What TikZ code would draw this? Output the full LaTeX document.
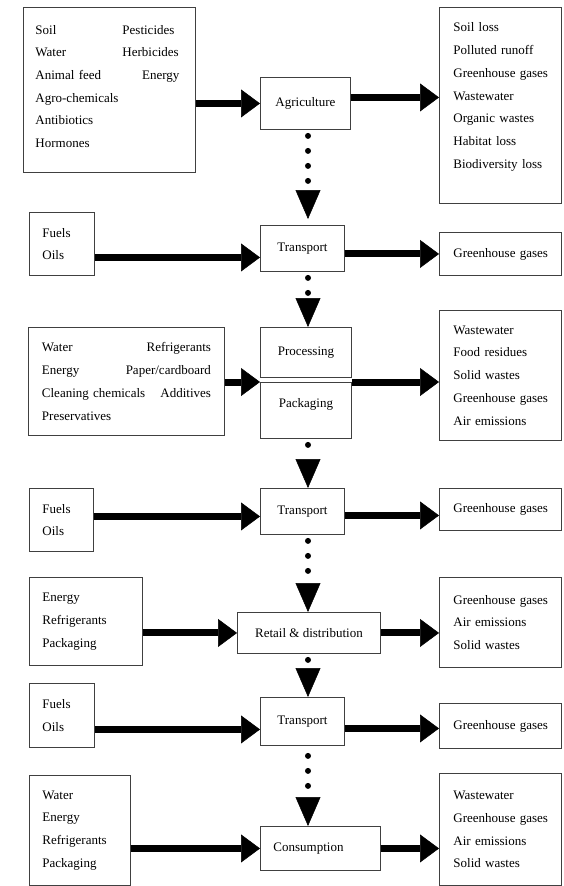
\documentclass[tikz,border=0pt]{standalone}
\usepackage{fontspec}
\setmainfont{Liberation Serif}
\usetikzlibrary{arrows.meta}
\newcommand\ghgtext{\mbox{Greenhouse gases}}
\begin{document}
\begin{tikzpicture}[x=1pt,y=-1pt,
  box/.style={draw=black!75, line width=0.9pt, anchor=north west, font=\fontsize{13pt}{22.7pt}\selectfont, text=black, align=left, inner ysep=0pt},
  pbox/.style={draw=black!75, line width=0.9pt, anchor=north west, font=\fontsize{13pt}{22.7pt}\selectfont, text=black, inner sep=0pt},
  flow/.style={line width=7pt, black, -{Triangle[length=19pt,width=28pt,line width=0.5pt]}},
  dotflow/.style={line width=6pt, black, line cap=round, dash pattern=on 0pt off 15pt, dash phase=9pt, -{Triangle[length=29pt,width=25pt,line width=0.5pt]}}
]
\fill[white] (0,0) rectangle (563,886);
\useasboundingbox (0,0) rectangle (563,886);
\coordinate (axis) at (308,0);

% row 1
\node[box, text width=148pt, inner xsep=12pt, minimum height=165pt] (in1) at (23,7)
 {\makebox[87pt][l]{Soil}Pesticides\\ \makebox[87pt][l]{Water}Herbicides\\ \makebox[144pt][l]{Animal feed\hfill Energy}\\ Agro-chemicals\\ Antibiotics\\ Hormones\par\vspace*{7pt}};
\node[pbox, minimum width=90pt, minimum height=52pt] (agri) at (260,77) {Agriculture};
\node[box, text width=94pt, inner xsep=14pt, minimum height=196pt] (out1) at (439,7)
 {Soil loss\\ Polluted runoff\\ \ghgtext\\ Wastewater\\ Organic wastes\\ Habitat loss\\ Biodiversity loss\par\vspace*{17pt}};

% row 2
\node[box, text width=39pt, inner xsep=13pt, minimum height=63pt] (fuel1) at (29,212) {Fuels\\ Oils};
\node[pbox, minimum width=84pt, minimum height=46pt] (tr1) at (260,225) {Transport};
\node[box, text width=94pt, inner xsep=14pt, minimum height=43pt] (ghg1) at (439,232) {\ghgtext};

% row 3
\node[box, text width=169pt, inner xsep=13.5pt, minimum height=108pt] (in3) at (28,327)
 {\makebox[169pt][l]{Water\hfill Refrigerants}\\ \makebox[169pt][l]{Energy\hfill Paper/cardboard}\\ \makebox[169pt][l]{Cleaning chemicals\hfill Additives}\\ Preservatives};
\node[pbox, minimum width=91pt, minimum height=50pt] (proc) at (260,327) {Processing};
\node[pbox, minimum width=91pt, minimum height=56pt, text depth=15pt] (pack) at (260,382) {Packaging};
\node[box, text width=94pt, inner xsep=14pt, minimum height=130pt] (out3) at (439,310)
 {Wastewater\\ Food residues\\ Solid wastes\\ \ghgtext\\ Air emissions};

% row 4
\node[box, text width=38pt, inner xsep=13pt, minimum height=63pt] (fuel2) at (29,488) {Fuels\\ Oils};
\node[pbox, minimum width=84pt, minimum height=46pt] (tr2) at (260,488) {Transport};
\node[box, text width=94pt, inner xsep=14pt, minimum height=42pt] (ghg2) at (439,488) {\ghgtext};

% row 5
\node[box, text width=87pt, inner xsep=13pt, minimum height=88pt] (in5) at (29,577) {Energy\\ Refrigerants\\ Packaging};
\node[pbox, minimum width=143pt, minimum height=41pt] (retail) at (237,612) {Retail \& distribution};
\node[box, text width=94pt, inner xsep=14pt, minimum height=90pt] (out5) at (439,577) {\ghgtext\\ Air emissions\\ Solid wastes};

% row 6
\node[box, text width=39pt, inner xsep=13pt, minimum height=64pt] (fuel3) at (29,683) {Fuels\\ Oils};
\node[pbox, minimum width=84pt, minimum height=48pt] (tr3) at (260,697) {Transport};
\node[box, text width=94pt, inner xsep=14pt, minimum height=45pt] (ghg3) at (439,703) {\ghgtext};

% row 7
\node[box, text width=75pt, inner xsep=13pt, minimum height=110pt] (in7) at (29,775) {Water\\ Energy\\ Refrigerants\\ Packaging};
\node[box, text width=94pt, inner xsep=13pt, minimum height=44pt] (cons) at (260,826) {Consumption};
\node[box, text width=94pt, inner xsep=14pt, minimum height=112pt] (out7) at (439,773) {Wastewater\\ \ghgtext\\ Air emissions\\ Solid wastes};

% horizontal flows
\draw[flow] (in1.east |- agri.west) -- (agri.west);
\draw[flow] ([yshift=6pt]agri.east) -- ([yshift=6pt]agri.east -| out1.west);
\draw[flow] ([yshift=-9pt]tr1.west -| fuel1.east) -- ([yshift=-9pt]tr1.west);
\draw[flow] (tr1.east |- ghg1.west) -- (ghg1.west);
\draw[flow] (in3.east |- pack.north west) -- (pack.north west);
\draw[flow] (pack.north east) -- (pack.north east -| out3.west);
\draw[flow] ([yshift=-5pt]tr2.west -| fuel2.east) -- ([yshift=-5pt]tr2.west);
\draw[flow] ([yshift=-4pt]tr2.east) -- ([yshift=-4pt]tr2.east -| ghg2.west);
\draw[flow] (in5.east |- retail.west) -- (retail.west);
\draw[flow] (retail.east) -- (retail.east -| out5.west);
\draw[flow] ([yshift=-8pt]tr3.west -| fuel3.east) -- ([yshift=-8pt]tr3.west);
\draw[flow] ([yshift=-7pt]tr3.east) -- ([yshift=-7pt]tr3.east -| ghg3.west);
\draw[flow] (in7.east |- cons.west) -- (cons.west);
\draw[flow] (cons.east) -- (cons.east -| out7.west);

% vertical dotted flows
\draw[dotflow, shorten >=6pt] (agri.south -| axis) -- (tr1.north -| axis);
\draw[dotflow] (tr1.south -| axis) -- (proc.north -| axis);
\draw[dotflow] (pack.south -| axis) -- (tr2.north -| axis);
\draw[dotflow] (tr2.south -| axis) -- (retail.north -| axis);
\draw[dotflow] (retail.south -| axis) -- (tr3.north -| axis);
\draw[dotflow, dash phase=5pt] (tr3.south -| axis) -- (cons.north -| axis);
\end{tikzpicture}
\end{document}
